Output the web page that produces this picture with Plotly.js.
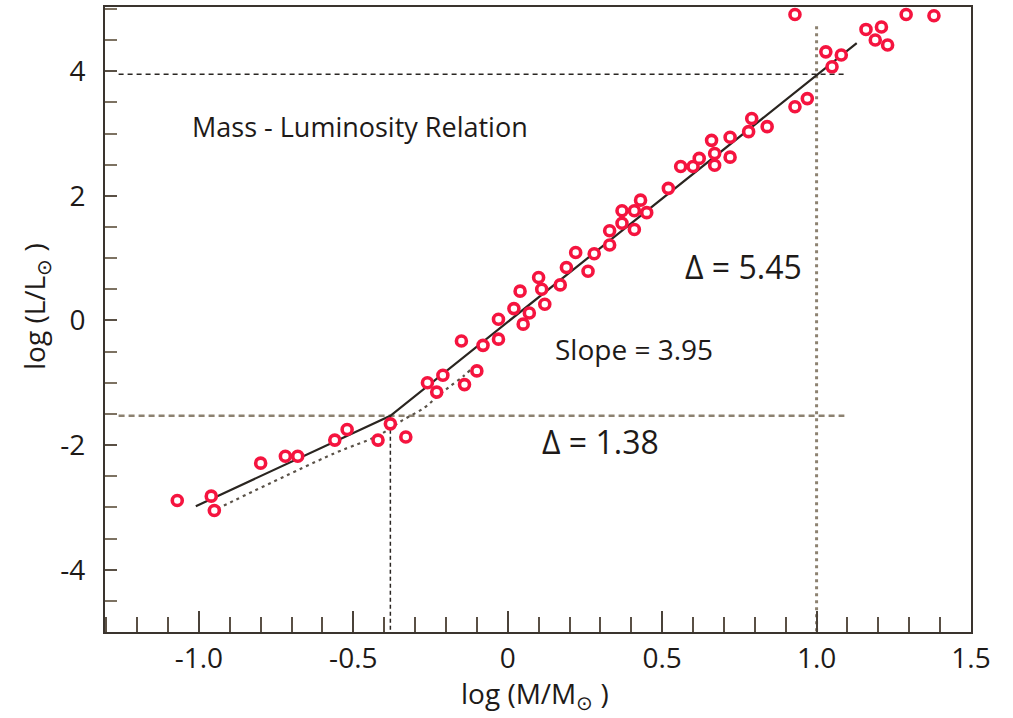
<!DOCTYPE html>
<html>
<head>
<meta charset="utf-8">
<script src="https://cdn.plot.ly/plotly-3.0.1.min.js"></script>
<style>html,body{margin:0;padding:0;background:#fff;}#chart{width:1013px;height:718px;}</style>
</head>
<body>
<div id="chart"></div>
<script>
// Observed stars: log(M/Msun), log(L/Lsun)
var starLogM = [-1.07,-0.96,-0.95,-0.80,-0.72,-0.68,-0.56,-0.52,-0.42,-0.38,-0.33,
  -0.26,-0.23,-0.21,-0.14,-0.10,-0.15,-0.08,-0.03,-0.03,0.04,0.02,0.07,0.05,
  0.10,0.11,0.12,0.17,0.19,0.22,0.26,0.28,0.33,0.33,0.37,0.37,0.41,0.43,0.41,0.45,
  0.52,0.56,0.60,0.62,0.66,0.67,0.67,0.72,0.72,0.78,0.79,0.84,0.93,0.97,0.93,
  1.03,1.08,1.05,1.16,1.21,1.19,1.23,1.29,1.38];
var starLogL = [-2.89,-2.82,-3.05,-2.29,-2.18,-2.18,-1.92,-1.75,-1.92,-1.66,-1.87,
  -1.00,-1.15,-0.88,-1.03,-0.81,-0.33,-0.40,-0.30,0.02,0.47,0.19,0.12,-0.06,
  0.69,0.50,0.26,0.57,0.85,1.09,0.79,1.07,1.44,1.21,1.56,1.76,1.76,1.93,1.46,1.73,
  2.12,2.47,2.47,2.60,2.89,2.68,2.49,2.94,2.62,3.03,3.24,3.11,3.43,3.56,4.91,
  4.31,4.26,4.07,4.67,4.71,4.50,4.42,4.91,4.89];

// Broken power-law fit (solid)
var fitLogM = [-1.01, -0.38, 1.13];
var fitLogL = [-2.98, -1.53, 4.45];

// Alternative fit (dotted curve)
var altLogM = [-0.94, -0.56, -0.42, -0.34, -0.27, -0.23, -0.19, -0.145, -0.12];
var altLogL = [-3.02, -2.13, -1.85, -1.60, -1.40, -1.23, -1.07, -0.90, -0.79];

// Reference lines
var upperRefL = 3.95, lowerRefL = -1.53;
var refSpanM = [-1.26, 1.09];
var breakM = -0.38, highM = 1.0, highTopL = 4.72, axisBottomL = -5;

// Axis ticks
var xTickVals = [-1.0, -0.5, 0, 0.5, 1.0, 1.5];
var xTickText = ['-1.0', '-0.5', '0', '0.5', '1.0', '1.5'];
var yTickVals = [-4, -2, 0, 2, 4];
var yTickText = ['-4', '-2', '0', '2', '4'];

var ink = '#1e1a18';
var tan = '#8c8170';
var font = 'Open Sans, sans-serif';

var traces = [
  {x: refSpanM, y: [upperRefL, upperRefL], mode: 'lines', line: {color: '#2a2622', width: 1.5, dash: '5px,4px'}, hoverinfo: 'skip'},
  {x: refSpanM, y: [lowerRefL, lowerRefL], mode: 'lines', line: {color: tan, width: 2.5, dash: '6px,4px'}, hoverinfo: 'skip'},
  {x: [breakM, breakM], y: [lowerRefL, axisBottomL], mode: 'lines', line: {color: '#2a2622', width: 1.5, dash: '4px,3px'}, hoverinfo: 'skip'},
  {x: [highM, highM], y: [highTopL, axisBottomL], mode: 'lines', line: {color: tan, width: 3, dash: '3px,4px'}, hoverinfo: 'skip'},
  {x: altLogM, y: altLogL, mode: 'lines', line: {color: '#5a5248', width: 2.2, dash: '3px,4px', shape: 'spline'}, hoverinfo: 'skip'},
  {x: fitLogM, y: fitLogL, mode: 'lines', line: {color: '#2a2520', width: 2.2}, hoverinfo: 'skip'},
  {x: starLogM, y: starLogL, mode: 'markers', marker: {symbol: 'circle', size: 10, color: '#ffffff', line: {color: '#f5143f', width: 3.6}}}
];

var layout = {
  width: 1013, height: 718,
  margin: {l: 105, r: 42, t: 7, b: 86},
  paper_bgcolor: '#ffffff', plot_bgcolor: '#ffffff',
  showlegend: false,
  font: {family: font, color: ink},
  xaxis: {
    range: [-1.304, 1.5], showgrid: false, zeroline: false,
    showline: true, linecolor: '#3a342e', linewidth: 2, mirror: true,
    tickmode: 'array', tickvals: xTickVals, ticktext: xTickText,
    ticks: 'inside', ticklen: 21, tickwidth: 2, tickcolor: '#4a4239',
    ticklabelstandoff: 0,
    tickfont: {size: 28, family: font, color: ink},
    minor: {tickmode: 'linear', tick0: 0, dtick: 0.1, ticks: 'inside', ticklen: 15, tickwidth: 2, tickcolor: '#5a5045', showgrid: false}
  },
  yaxis: {
    range: [-5, 5.03], showgrid: false, zeroline: false,
    showline: true, linecolor: '#3a342e', linewidth: 2, mirror: true,
    tickmode: 'array', tickvals: yTickVals, ticktext: yTickText,
    ticks: 'inside', ticklen: 12, tickwidth: 2, tickcolor: '#5a5045',
    ticklabelstandoff: 12,
    tickfont: {size: 28, family: font, color: ink},
    minor: {tickmode: 'linear', tick0: 0, dtick: 0.5, ticks: 'inside', ticklen: 12, tickwidth: 2, tickcolor: '#7d7262', showgrid: false}
  },
  annotations: [
    {text: 'Mass - Luminosity Relation', x: -1.029, y: 3.106, xref: 'x', yref: 'y', xanchor: 'left', yanchor: 'middle', showarrow: false, font: {size: 27, family: font, color: ink}},
    {text: 'Δ = 5.45', x: 0.566, y: 0.859, xref: 'x', yref: 'y', xanchor: 'left', yanchor: 'middle', showarrow: false, font: {size: 32, family: font, color: ink}},
    {text: 'Slope = 3.95', x: 0.146, y: -0.457, xref: 'x', yref: 'y', xanchor: 'left', yanchor: 'middle', showarrow: false, font: {size: 28, family: font, color: ink}},
    {text: 'Δ = 1.38', x: 0.104, y: -1.942, xref: 'x', yref: 'y', xanchor: 'left', yanchor: 'middle', showarrow: false, font: {size: 32, family: font, color: ink}},
    {text: 'log (M/M<sub>⊙</sub> )', x: 0.087, y: -0.1008, xref: 'x', yref: 'paper', xanchor: 'center', yanchor: 'middle', showarrow: false, font: {size: 28, family: font, color: ink}},
    {text: 'log (L/L<sub>⊙</sub> )', x: -0.0797, y: 0.5216, xref: 'paper', yref: 'paper', xanchor: 'center', yanchor: 'middle', textangle: -90, showarrow: false, font: {size: 28, family: font, color: ink}}
  ]
};

Plotly.newPlot('chart', traces, layout, {displayModeBar: false, staticPlot: true});
</script>
</body>
</html>
